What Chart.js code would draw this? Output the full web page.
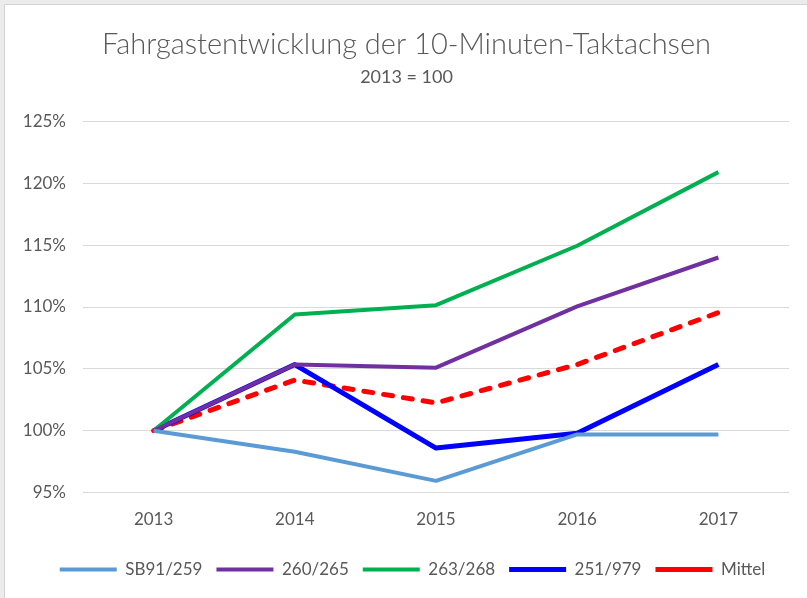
<!DOCTYPE html>
<html>
<head>
<meta charset="utf-8">
<script src="https://cdn.jsdelivr.net/npm/chart.js@4/dist/chart.umd.min.js"></script>
<style>
    html, body { margin: 0; padding: 0; background: #ebebeb; }
    #frame {
        position: absolute; left: 4px; top: 4px; width: 810px; height: 600px;
        background: #ffffff; border-left: 1px solid #d4d4d4; border-top: 1px solid #d4d4d4;
    }
    #wrap { position: absolute; left: 0; top: 0; width: 807px; height: 598px; }
</style>
</head>
<body>
<div id="frame"></div>
<div id="wrap"><canvas id="chart"></canvas></div>
<script>
// Kategorien und Werte (2013 = 100)
const years = ['2013', '2014', '2015', '2016', '2017'];
const sb91_259 = [100, 98.3, 95.95, 99.7, 99.7];
const l260_265 = [100, 105.35, 105.1, 110.05, 114.0];
const l263_268 = [100, 109.4, 110.15, 114.95, 120.9];
const l251_979 = [100, 105.35, 98.6, 99.8, 105.35];
const mittel = [100, 104.1, 102.25, 105.35, 109.55];
const yTicks = [95, 100, 105, 110, 115, 120, 125];

const textColor = '#595959';
const fontFamily = 'Lato, "Open Sans", sans-serif';

function series(label, data, color, width, dash) {
    return {
        label: label,
        data: data,
        borderColor: color,
        backgroundColor: color,
        borderWidth: width,
        borderDash: dash || [],
        borderCapStyle: dash ? 'round' : 'butt',
        borderJoinStyle: 'round',
        pointRadius: 0,
        pointHoverRadius: 0,
        tension: 0,
        fill: false
    };
}

// Legende etwas nach rechts schieben (wie im Original)
const legendShift = {
    id: 'legendShift',
    afterLayout(chart) {
        if (chart.legend) {
            chart.legend.left += 6;
            chart.legend.right += 6;
        }
    }
};

const ctx = document.getElementById('chart').getContext('2d');
new Chart(ctx, {
    type: 'line',
    data: {
        labels: years,
        datasets: [
            series('SB91/259', sb91_259, '#5b9bd5', 4),
            series('260/265', l260_265, '#7030a0', 4),
            series('263/268', l263_268, '#00b050', 4),
            series('251/979', l251_979, '#0000ff', 5),
            series('Mittel', mittel, '#ff0000', 5, [9, 11])
        ]
    },
    plugins: [legendShift],
    options: {
        responsive: true,
        maintainAspectRatio: false,
        animation: false,
        layout: {
            padding: { top: 10, right: 18, bottom: 10, left: 24 }
        },
        scales: {
            x: {
                offset: true,
                grid: { display: false, drawTicks: false },
                border: { display: false },
                ticks: {
                    color: textColor,
                    font: { family: fontFamily, size: 17 },
                    padding: 17
                }
            },
            y: {
                min: 95,
                max: 125,
                afterBuildTicks: (scale) => {
                    scale.ticks = yTicks.map(v => ({ value: v }));
                },
                afterFit: (scale) => {
                    // Plotbereich beginnt bei x = 83
                    scale.width = 59;
                },
                grid: { color: '#d9d9d9', lineWidth: 1, drawTicks: false },
                border: { display: false },
                ticks: {
                    color: textColor,
                    font: { family: fontFamily, size: 17 },
                    padding: 17,
                    callback: (v) => v + '%'
                }
            }
        },
        plugins: {
            title: {
                display: true,
                text: 'Fahrgastentwicklung der 10-Minuten-Taktachsen',
                color: textColor,
                font: { family: fontFamily, size: 29, weight: 300 },
                padding: { top: 17, bottom: 0 }
            },
            subtitle: {
                display: true,
                text: '2013 = 100',
                color: textColor,
                font: { family: fontFamily, size: 18, weight: 'normal' },
                padding: { top: 5, bottom: 33 }
            },
            legend: {
                position: 'bottom',
                labels: {
                    usePointStyle: true,
                    pointStyle: 'line',
                    pointStyleWidth: 57,
                    boxHeight: 16,
                    color: textColor,
                    font: { family: fontFamily, size: 17 },
                    padding: 14
                }
            },
            tooltip: { enabled: false }
        }
    }
});
</script>
</body>
</html>
